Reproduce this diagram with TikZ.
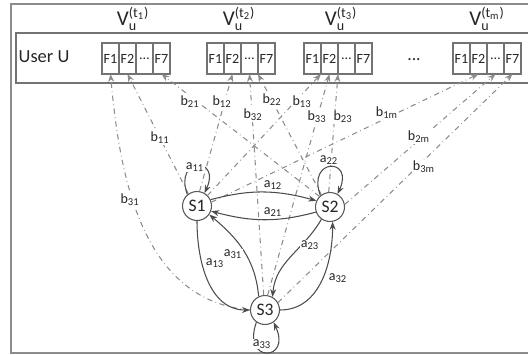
\documentclass[tikz,border=0pt]{standalone}
\usepackage{amsmath}
\usepackage{fontspec}
\setmainfont{Carlito}
\usetikzlibrary{arrows.meta, positioning}
\tikzstyle{state} = [circle, minimum size=0.58cm, inner sep=0pt, text centered, draw=black!65, line width=0.6pt, fill=white, text=black!85, font=\normalsize]
\tikzstyle{cell} = [rectangle, minimum width=0.34cm, minimum height=0.62cm, inner sep=0pt, outer sep=0pt, draw=black!55, line width=0.6pt, text=black!85, font=\fontsize{8}{9}\selectfont]
\tikzstyle{trans} = [draw=black!70, line width=0.6pt, -{Stealth[length=1.6mm, width=1.2mm]}]
\tikzstyle{emit} = [draw=black!45, dash dot, line width=0.6pt, -{Stealth[length=1.6mm, width=1.2mm]}]
\tikzstyle{lbl} = [font=\footnotesize, inner sep=0.5pt, fill=white, text=black!85]
\tikzstyle{vlabel} = [font=\large, text=black!85]

\begin{document}
\begin{tikzpicture}[x=0.02cm, y=-0.02cm]
\clip (0,0) rectangle (528,355);
% frame and user band
\draw[draw=black!45, line width=1.2pt] (11,4) rectangle (545,353);
\draw[draw=black!55, line width=0.9pt] (16,33) rectangle (545,83);
\node (user) [text=black!85, font=\fontsize{10.5}{12}\selectfont] at (44,57) {User U};
\node (gap) [text=black!85] at (414,60) {...};
% observation vectors
\node (vt1) [vlabel] at (133,19) {$\text{V}_{\text{u}}^{\text{(}\text{t}_{\text{1}}\text{)}}$};
\node (vt2) [vlabel] at (239,19) {$\text{V}_{\text{u}}^{\text{(}\text{t}_{\text{2}}\text{)}}$};
\node (vt3) [vlabel] at (341,19) {$\text{V}_{\text{u}}^{\text{(}\text{t}_{\text{3}}\text{)}}$};
\node (vtm) [vlabel] at (487,19) {$\text{V}_{\text{u}}^{\text{(}\text{t}_{\text{m}}\text{)}}$};
\node (v1f1) [cell] at (110.5,58.5) {F1};
\node (v1f2) [cell, right=0pt of v1f1] {F2};
\node (v1dd) [cell, right=0pt of v1f2] {\dots};
\node (v1f7) [cell, right=0pt of v1dd] {F7};
\node (v2f1) [cell] at (215.5,58.5) {F1};
\node (v2f2) [cell, right=0pt of v2f1] {F2};
\node (v2dd) [cell, right=0pt of v2f2] {\dots};
\node (v2f7) [cell, right=0pt of v2dd] {F7};
\node (v3f1) [cell] at (312.5,58.5) {F1};
\node (v3f2) [cell, right=0pt of v3f1] {F2};
\node (v3dd) [cell, right=0pt of v3f2] {\dots};
\node (v3f7) [cell, right=0pt of v3dd] {F7};
\node (v4f1) [cell] at (461.5,58.5) {F1};
\node (v4f2) [cell, right=0pt of v4f1] {F2};
\node (v4dd) [cell, right=0pt of v4f2] {\dots};
\node (v4f7) [cell, right=0pt of v4dd] {F7};
% hidden states
\node (s1) [state] at (197,206) {S1};
\node (s2) [state] at (330,207) {S2};
\node (s3) [state] at (265,310) {S3};
% emissions
\draw[emit] (s1.125) -- (v1f2.south);
\draw[emit] (s2.135) -- (v1f7.south);
\draw[emit] (s3.180) to[out=175, in=-85] (v1f1.south);
\draw[emit] (s1.80) -- (v2f2.south);
\draw[emit] (s2.125) -- (v2f7.south west);
\draw[emit] (s3.95) -- (v2dd.south);
\draw[emit] (s1.45) -- (v3f1.south east);
\draw[emit] (s2.95) -- (v3dd.south west);
\draw[emit] (s3.80) -- (v3f2.south);
\draw[emit] (s1.15) -- (v4f2.south);
\draw[emit] (s2.10) -- (v4dd.south);
\draw[emit] (s3.30) -- (v4f7.south);
% transitions
\draw[trans] (s1.130) to[out=110, in=65, looseness=6] (s1.60);
\draw[trans] (s2.130) to[out=110, in=65, looseness=6] (s2.60);
\draw[trans] (s3.-125) to[out=-110, in=-65, looseness=6.5] (s3.-55);
\draw[trans] (s1.25) to[out=15, in=165] (s2.155);
\draw[trans] (s2.200) to[out=195, in=-15] (s1.-20);
\draw[trans] (s1.270) to[out=-90, in=180] (s3.180);
\draw[trans] (s3.115) to[out=95, in=-40] (s1.-35);
\draw[trans] (s2.235) to[out=-120, in=85] (s3.60);
\draw[trans] (s3.0) to[out=0, in=-90] (s2.-80);
% labels
\node (lb11) [lbl] at (160,138) {$\text{b}_{\text{11}}$};
\node (lb21) [lbl] at (190,102) {$\text{b}_{\text{21}}$};
\node (lb31) [lbl] at (130,200) {$\text{b}_{\text{31}}$};
\node (lb12) [lbl] at (222,102) {$\text{b}_{\text{12}}$};
\node (lb32) [lbl] at (253,115) {$\text{b}_{\text{32}}$};
\node (lb22) [lbl] at (272,100) {$\text{b}_{\text{22}}$};
\node (lb13) [lbl] at (302,102) {$\text{b}_{\text{13}}$};
\node (lb33) [lbl] at (317,117) {$\text{b}_{\text{33}}$};
\node (lb23) [lbl] at (343,117) {$\text{b}_{\text{23}}$};
\node (lb1m) [lbl] at (387,113) {$\text{b}_{\text{1m}}$};
\node (lb2m) [lbl] at (419,137) {$\text{b}_{\text{2m}}$};
\node (lb3m) [lbl] at (424,167) {$\text{b}_{\text{3m}}$};
\node (la11) [lbl] at (195,167) {$\text{a}_{\text{11}}$};
\node (la22) [lbl] at (329,160) {$\text{a}_{\text{22}}$};
\node (la12) [lbl] at (273,185) {$\text{a}_{\text{12}}$};
\node (la21) [lbl] at (273,212) {$\text{a}_{\text{21}}$};
\node (la13) [lbl] at (215,263) {$\text{a}_{\text{13}}$};
\node (la31) [lbl] at (233,254) {$\text{a}_{\text{31}}$};
\node (la23) [lbl] at (310,245) {$\text{a}_{\text{23}}$};
\node (la32) [lbl] at (338,278) {$\text{a}_{\text{32}}$};
\node (la33) [lbl] at (262,344) {$\text{a}_{\text{33}}$};
\end{tikzpicture}
\end{document}
